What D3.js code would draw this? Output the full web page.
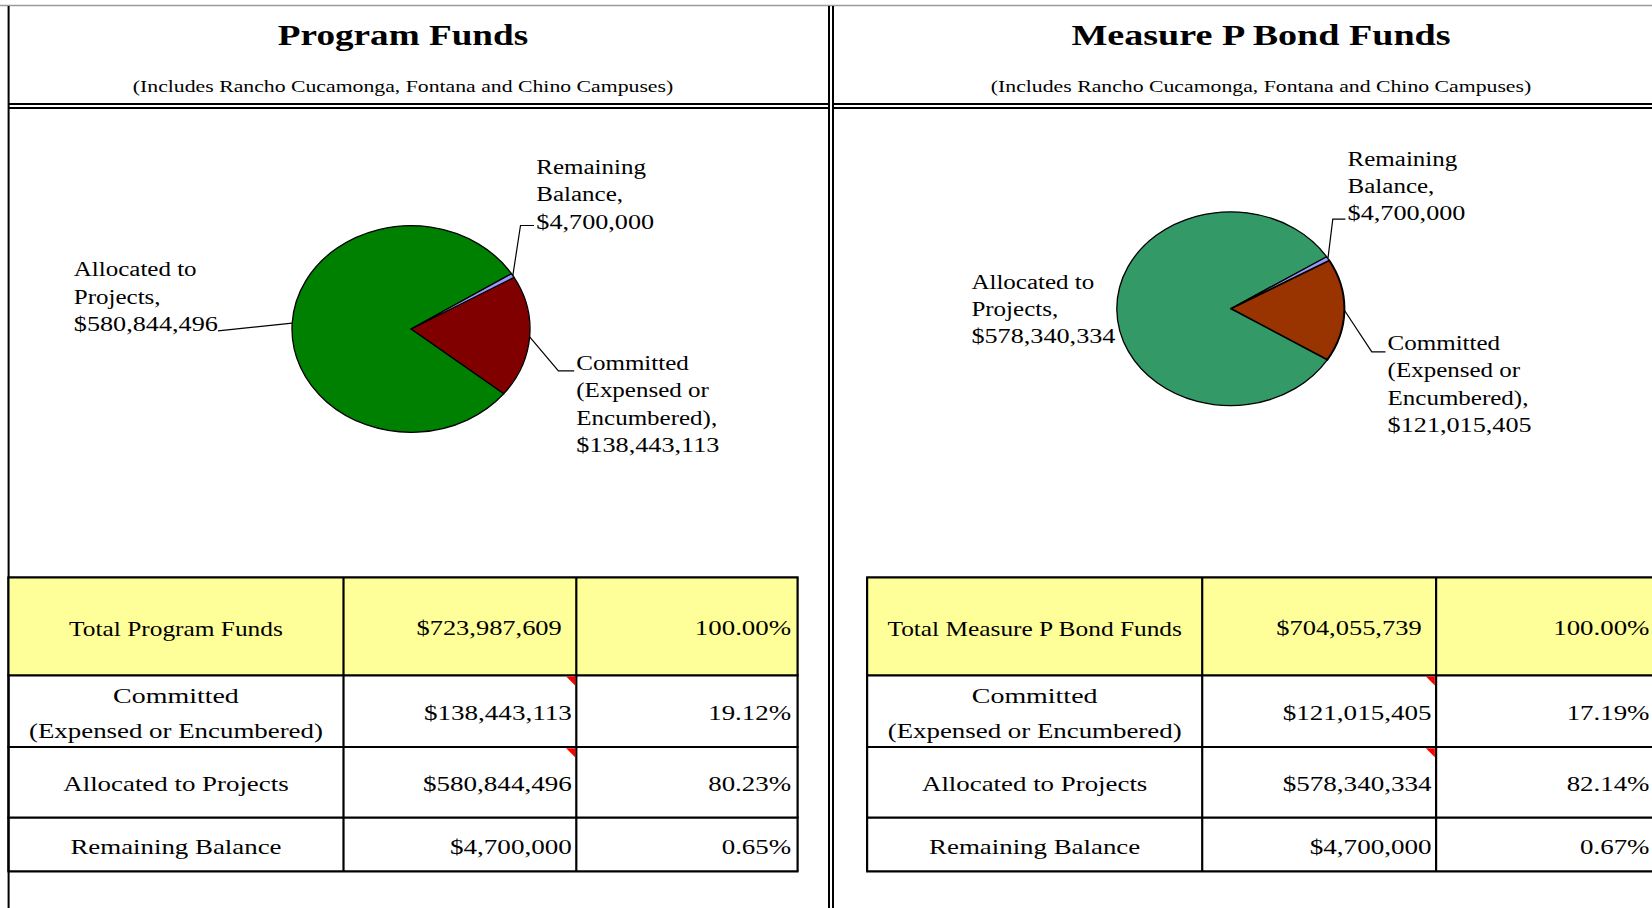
<!DOCTYPE html>
<html><head><meta charset="utf-8">
<script src="https://cdn.jsdelivr.net/npm/d3@7"></script>
<style>html,body{margin:0;padding:0;background:#fff;overflow:hidden}</style>
</head><body><svg id="c" width="1652" height="908"></svg>
<script>
// ---------------- DATA ----------------
const categories = ["Committed (Expensed or Encumbered)", "Allocated to Projects", "Remaining Balance"];
const tableRowLabels = [["Committed", "(Expensed or Encumbered)"], ["Allocated to Projects"], ["Remaining Balance"]];
const pieLabelLines = [["Committed", "(Expensed or", "Encumbered),"], ["Allocated to", "Projects,"], ["Remaining", "Balance,"]];
const panelTitles = ["Program Funds", "Measure P Bond Funds"];
const panelSubtitle = "(Includes Rancho Cucamonga, Fontana and Chino Campuses)";
const totalLabels = ["Total Program Funds", "Total Measure P Bond Funds"];
const programValues = [138443113, 580844496, 4700000];
const bondValues = [121015405, 578340334, 4700000];
const programColors = ["#800000", "#008000", "#9999FF"];
const bondColors = ["#993300", "#339966", "#9999FF"];

// ---------------- LAYOUT ----------------
const S = 1.25; // horizontal text stretch
const FONT = "'Liberation Serif','Times New Roman',serif";
const money = d3.format("$,");
const pct = d3.format(".2%");

const panels = [
  { title: panelTitles[0], values: programValues, colors: programColors, totalLabel: totalLabels[0],
    titleX: 403, cx: 411, cy: 329, rx: 119, ry: 103.3, strokeW: [1.3, 1.3, 1.3], titleSx: 1.24,
    tx: [8.4, 343.5, 576.3, 797.6],
    labels: [
      { x: 576.3, y: 363.5, leader: [[558.4, 370.9], [574.2, 370.9]] },
      { x: 73.8, y: 269.7, leader: [[218, 330.8]] },
      { x: 536.3, y: 167.5, leader: [[520.5, 225.5], [534, 225.5]] }
    ] },
  { title: panelTitles[1], values: bondValues, colors: bondColors, totalLabel: totalLabels[1],
    titleX: 1261, cx: 1230.6, cy: 308.7, rx: 113.8, ry: 96.9, strokeW: [2, 1.3, 1.3], titleSx: 1.27,
    tx: [867.1, 1202.2, 1436.1, 1656],
    labels: [
      { x: 1387.6, y: 343.5, leader: [[1371.8, 351.9], [1385.5, 351.9]] },
      { x: 971.4, y: 282.4, leader: null },
      { x: 1347.6, y: 159.1, leader: [[1332.8, 219.1], [1345.4, 219.1]] }
    ] }
];
const rowY = [577.4, 675.4, 747, 817.6, 871.3];

const svg = d3.select("#c");

function stxt(x, y, str, size, anchor, weight, sx) {
  return svg.append("text")
    .attr("transform", `translate(${x},${y}) scale(${sx || S},1)`)
    .attr("font-family", FONT)
    .attr("font-size", size)
    .attr("font-weight", weight || "normal")
    .attr("text-anchor", anchor || "start")
    .attr("dy", "0.33em")
    .attr("fill", "#000")
    .text(str);
}

// ---------------- FRAME ----------------
svg.append("line").attr("x1", 0).attr("x2", 1652).attr("y1", 5.5).attr("y2", 5.5)
  .attr("stroke", "#9a9a9a").attr("stroke-width", 1.5);
[8.6, 829, 833].forEach(x => svg.append("line").attr("x1", x).attr("x2", x).attr("y1", 6).attr("y2", 908)
  .attr("stroke", "#000").attr("stroke-width", 2));
[104, 108].forEach(y => {
  svg.append("line").attr("x1", 8).attr("x2", 830).attr("y1", y).attr("y2", y).attr("stroke", "#000").attr("stroke-width", 2);
  svg.append("line").attr("x1", 832).attr("x2", 1652).attr("y1", y).attr("y2", y).attr("stroke", "#000").attr("stroke-width", 2);
});

const pie = d3.pie().sort(null).value(d => d)
  .startAngle(Math.PI / 3).endAngle(Math.PI / 3 + 2 * Math.PI);

panels.forEach(p => {
  // titles
  stxt(p.titleX, 34.8, p.title, 30, "middle", "bold", p.titleSx);
  stxt(p.titleX, 86.4, panelSubtitle, 17.4, "middle");

  // pie
  const arcs = pie(p.values);
  const arc = d3.arc().innerRadius(0).outerRadius(p.rx);
  const g = svg.append("g").attr("transform", `translate(${p.cx},${p.cy}) scale(1,${p.ry / p.rx})`);
  g.selectAll("path").data(arcs).join("path")
    .attr("d", arc)
    .attr("fill", (d, i) => p.colors[i])
    .attr("stroke", "#000")
    .attr("stroke-width", (d, i) => p.strokeW[i])
    .attr("stroke-linejoin", "round")
    .attr("vector-effect", "non-scaling-stroke");

  // labels + leaders
  arcs.forEach((a, i) => {
    const L = p.labels[i];
    const mid = (a.startAngle + a.endAngle) / 2;
    const px = p.cx + p.rx * Math.sin(mid), py = p.cy - p.ry * Math.cos(mid);
    if (L.leader) {
      const pts = [[px, py]].concat(L.leader);
      svg.append("path").attr("d", d3.line()(pts)).attr("fill", "none")
        .attr("stroke", "#000").attr("stroke-width", 1.2);
    }
    const lines = pieLabelLines[i].concat([money(p.values[i])]);
    lines.forEach((t, k) => stxt(L.x, L.y + k * 27.2, t, 20, "start", "normal", /\$/.test(t) ? 1.31 : S));
  });

  // table
  const total = d3.sum(p.values);
  const x = p.tx;
  svg.append("rect").attr("x", x[0]).attr("y", rowY[0]).attr("width", x[3] - x[0]).attr("height", rowY[1] - rowY[0])
    .attr("fill", "#FFFF99");
  rowY.forEach(y => svg.append("line").attr("x1", x[0] - 1).attr("x2", x[3] + 1).attr("y1", y).attr("y2", y)
    .attr("stroke", "#000").attr("stroke-width", 2.2));
  x.forEach(xx => svg.append("line").attr("x1", xx).attr("x2", xx).attr("y1", rowY[0]).attr("y2", rowY[4])
    .attr("stroke", "#000").attr("stroke-width", 2.2));
  const colC = (x[0] + x[1]) / 2;
  const mids = rowY.slice(0, 4).map((y, i) => (y + rowY[i + 1]) / 2 + 2);
  // total row
  stxt(colC, mids[0], p.totalLabel, 21.5, "middle", "normal", 1.18);
  stxt(x[2] - 14.5, mids[0], money(total), 21.5, "end", "normal", 1.23);
  stxt(x[3] - 6.5, mids[0], pct(1), 21.5, "end");
  // category rows
  p.values.forEach((v, i) => {
    const r = i + 1, m = mids[r];
    const lbl = tableRowLabels[i];
    if (lbl.length === 2) {
      stxt(colC, m - 17.4, lbl[0], 21.5, "middle", "normal", 1.3);
      stxt(colC, m + 17.4, lbl[1], 21.5, "middle");
    } else {
      stxt(colC, m, lbl[0], 21.5, "middle");
    }
    stxt(x[2] - 4.5, m, money(v), 21.5, "end", "normal", 1.26);
    stxt(x[3] - 6.5, m, pct(v / total), 21.5, "end");
    if (i < 2) {
      const tx = x[2] - 1.2, ty = rowY[r] + 1.2;
      svg.append("path").attr("d", `M${tx - 9},${ty}L${tx},${ty}L${tx},${ty + 9}Z`).attr("fill", "#FF0000");
    }
  });
});
</script></body></html>
